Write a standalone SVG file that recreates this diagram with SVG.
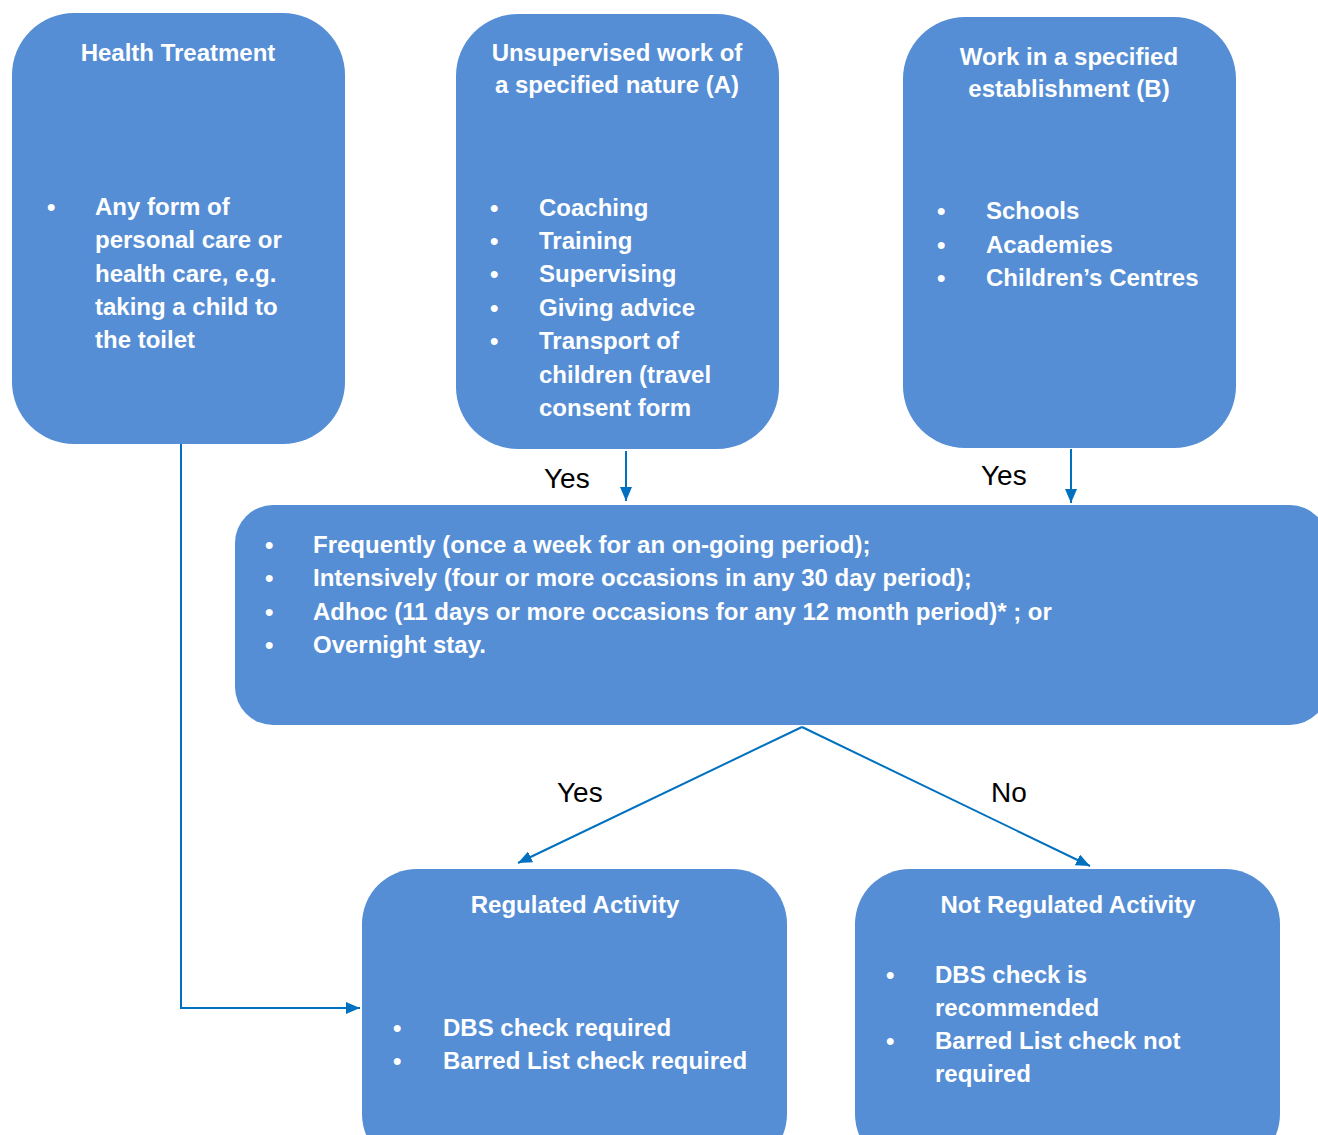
<svg xmlns="http://www.w3.org/2000/svg" width="1318" height="1135" viewBox="0 0 1318 1135">
<style>
.box{fill:#558ED5;}
.t{font-family:"Liberation Sans",Arial,sans-serif;font-weight:bold;font-size:24px;fill:#ffffff;}
.c{text-anchor:middle;}
.lbl{font-family:"Liberation Sans",Arial,sans-serif;font-size:28px;fill:#000000;}
.con{stroke:#0070C0;stroke-width:2;fill:none;}
</style>
<defs>
<marker id="ah" viewBox="0 0 14 12" refX="14" refY="6" markerWidth="14" markerHeight="12" markerUnits="userSpaceOnUse" orient="auto">
<path d="M0,0 L14,6 L0,12 Z" fill="#0070C0"/>
</marker>
</defs>
<rect width="1318" height="1135" fill="#ffffff"/>
<g id="connectors">
<line class="con" x1="626" y1="451" x2="626" y2="501" marker-end="url(#ah)"/>
<line class="con" x1="1071" y1="449" x2="1071" y2="503" marker-end="url(#ah)"/>
<line class="con" x1="802" y1="727" x2="518" y2="863" marker-end="url(#ah)"/>
<line class="con" x1="802" y1="727" x2="1090" y2="866" marker-end="url(#ah)"/>
<polyline class="con" points="181,444 181,1008 360,1008" marker-end="url(#ah)"/>
<text class="lbl" x="544" y="488">Yes</text>
<text class="lbl" x="981" y="485">Yes</text>
<text class="lbl" x="557" y="802">Yes</text>
<text class="lbl" x="991" y="802">No</text>
</g>
<g id="health">
<rect class="box" x="12" y="13" width="333" height="431" rx="62"/>
<text class="t c" x="178" y="61">Health Treatment</text>
<text class="t" x="47" y="215">•</text>
<text class="t" x="95" y="215">Any form of</text>
<text class="t" x="95" y="248">personal care or</text>
<text class="t" x="95" y="282">health care, e.g.</text>
<text class="t" x="95" y="315">taking a child to</text>
<text class="t" x="95" y="348">the toilet</text>
</g>
<g id="unsupervised">
<rect class="box" x="456" y="14" width="323" height="435" rx="62"/>
<text class="t c" x="617" y="61">Unsupervised work of</text>
<text class="t c" x="617" y="93">a specified nature (A)</text>
<text class="t" x="490" y="216">•</text>
<text class="t" x="539" y="216">Coaching</text>
<text class="t" x="490" y="249">•</text>
<text class="t" x="539" y="249">Training</text>
<text class="t" x="490" y="282">•</text>
<text class="t" x="539" y="282">Supervising</text>
<text class="t" x="490" y="316">•</text>
<text class="t" x="539" y="316">Giving advice</text>
<text class="t" x="490" y="349">•</text>
<text class="t" x="539" y="349">Transport of</text>
<text class="t" x="539" y="383">children (travel</text>
<text class="t" x="539" y="416">consent form</text>
</g>
<g id="establishment">
<rect class="box" x="903" y="17" width="333" height="431" rx="62"/>
<text class="t c" x="1069" y="65">Work in a specified</text>
<text class="t c" x="1069" y="97">establishment (B)</text>
<text class="t" x="937" y="219">•</text>
<text class="t" x="986" y="219">Schools</text>
<text class="t" x="937" y="253">•</text>
<text class="t" x="986" y="253">Academies</text>
<text class="t" x="937" y="286">•</text>
<text class="t" x="986" y="286">Children’s Centres</text>
</g>
<g id="frequency">
<rect class="box" x="235" y="505" width="1093" height="220" rx="38"/>
<text class="t" x="265" y="553">•</text>
<text class="t" x="313" y="553">Frequently (once a week for an on-going period);</text>
<text class="t" x="265" y="586">•</text>
<text class="t" x="313" y="586">Intensively (four or more occasions in any 30 day period);</text>
<text class="t" x="265" y="620">•</text>
<text class="t" x="313" y="620">Adhoc (11 days or more occasions for any 12 month period)* ; or</text>
<text class="t" x="265" y="653">•</text>
<text class="t" x="313" y="653">Overnight stay.</text>
</g>
<g id="regulated">
<rect class="box" x="362" y="869" width="425" height="300" rx="55"/>
<text class="t c" x="575" y="913">Regulated Activity</text>
<text class="t" x="393" y="1036">•</text>
<text class="t" x="443" y="1036">DBS check required</text>
<text class="t" x="393" y="1069">•</text>
<text class="t" x="443" y="1069">Barred List check required</text>
</g>
<g id="notregulated">
<rect class="box" x="855" y="869" width="425" height="300" rx="55"/>
<text class="t c" x="1068" y="913">Not Regulated Activity</text>
<text class="t" x="886" y="983">•</text>
<text class="t" x="935" y="983">DBS check is</text>
<text class="t" x="935" y="1016">recommended</text>
<text class="t" x="886" y="1049">•</text>
<text class="t" x="935" y="1049">Barred List check not</text>
<text class="t" x="935" y="1082">required</text>
</g>
</svg>
